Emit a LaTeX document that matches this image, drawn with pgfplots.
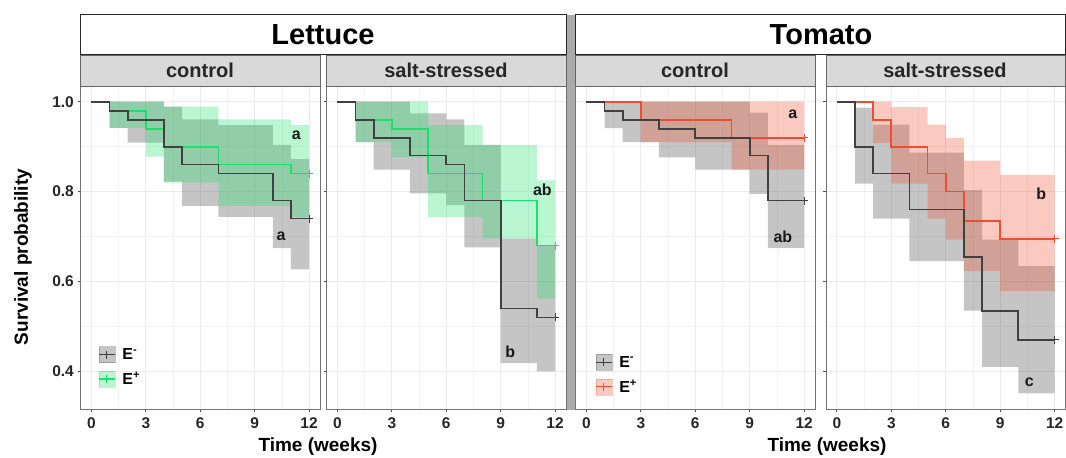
\documentclass[border=0pt]{standalone}
\usepackage{fontspec}
\setmainfont{Liberation Sans}
\usepackage{pgfplots}
\pgfplotsset{compat=1.18}

\definecolor{kline}{RGB}{64,64,64}
\definecolor{gline}{RGB}{25,225,105}
\definecolor{rline}{RGB}{238,78,48}
\definecolor{stripfill}{RGB}{217,217,217}
\definecolor{sepbar}{RGB}{170,170,170}

% bands: upper limits left to right, then lower limits right to left,
% each lower point (x, value of the interval left of x)
\pgfplotsset{
  panel/.style={
    scale only axis, width=239.5pt, height=323.5pt, anchor=south west,
    xmin=-0.6, xmax=12.6, ymin=0.315, ymax=1.035,
    xtick={0,3,6,9,12}, xticklabels={0,3,6,9,12},
    minor xtick={1.5,4.5,7.5,10.5},
    ytick={0.4,0.6,0.8,1.0}, minor ytick={0.5,0.7,0.9},
    yticklabels={},
    grid=both,
    major grid style={draw=black!8, line width=0.9pt},
    minor grid style={draw=black!5, line width=0.5pt},
    axis line style={draw=black!55, line width=1pt},
    tick align=outside, tick pos=left,
    major tick length=3pt, minor tick length=0pt,
    tick style={draw=black!70, line width=0.8pt},
    ticklabel style={font=\fontsize{15.5}{16}\selectfont\bfseries, text=black!85, inner sep=0pt},
    xticklabel style={yshift=-4.5pt},
    legend cell align=left,
  },
  keys/.style={legend style={at={#1}, anchor=north west, draw=none, fill=none,
    inner sep=0pt, row sep=7pt, font=\fontsize{16}{16}\selectfont\bfseries,
    /tikz/every odd column/.append style={column sep=5pt}}},
  band/.style={const plot, draw=none, fill=#1, fill opacity=0.3, forget plot},
  km/.style={const plot, color=#1, line width=1.7pt, forget plot},
  cens/.style={only marks, mark=+, mark size=4pt, color=#1, mark options={line width=1.2pt}, forget plot},
}
\newcommand{\letter}[3]{\node[font=\fontsize{16}{16}\selectfont\bfseries, text=black!90] at (axis cs:#1,#2) {#3};}

\begin{document}
\begin{tikzpicture}
\path[use as bounding box] (0pt,0pt) rectangle (1066pt,458pt);

% ---------- Lettuce / control
\begin{axis}[panel, at={(80.5pt,48.5pt)}, yticklabels={0.4,0.6,0.8,1.0},
  yticklabel style={xshift=-3.5pt}, keys={(0.073,0.196)}]
\addplot[band=kline] coordinates {(1,1.0)(2,1.0)(4,0.989)(5,0.961)(7,0.948)(10,0.904)(11,0.872)(12,0.872)
  (12,0.627)(11,0.674)(10,0.744)(7,0.768)(5,0.822)(4,0.909)(2,0.942)(1,0.942)};
\addplot[band=gline] coordinates {(1,1.0)(3,1.0)(4,0.989)(7,0.961)(11,0.948)(12,0.948)
  (12,0.744)(11,0.768)(7,0.820)(4,0.878)(3,0.942)(1,0.942)};
\addplot[km=gline] coordinates {(0,1)(1,0.98)(3,0.94)(4,0.90)(7,0.86)(11,0.84)(12,0.84)};
\addplot[km=kline] coordinates {(0,1)(1,0.98)(2,0.96)(4,0.90)(5,0.86)(7,0.84)(10,0.78)(11,0.74)(12,0.74)};
\addplot[cens=gline] coordinates {(12,0.84)};
\addplot[cens=kline] coordinates {(12,0.74)};
\addlegendimage{legend image code/.code={
      \fill[kline, opacity=0.3] (0pt,-8pt) rectangle (16pt,8pt);
      \draw[kline, line width=1.2pt] (0pt,0pt) -- (16pt,0pt) (8pt,-4pt) -- (8pt,4pt);}}
\addlegendentry{E\textsuperscript{-}}
\addlegendimage{legend image code/.code={
      \fill[gline, opacity=0.3] (0pt,-8pt) rectangle (16pt,8pt);
      \draw[gline, line width=1.2pt] (0pt,0pt) -- (16pt,0pt) (8pt,-4pt) -- (8pt,4pt);}}
\addlegendentry{E\textsuperscript{+}}
\letter{11.3}{0.926}{a}
\letter{10.45}{0.70}{a}
\end{axis}

% ---------- Lettuce / salt-stressed
\begin{axis}[panel, at={(326.5pt,48.5pt)}]
\addplot[band=kline] coordinates {(1,1.0)(2,1.0)(4,0.974)(6,0.961)(7,0.904)(9,0.696)(11,0.680)(12,0.680)
  (12,0.400)(11,0.418)(9,0.676)(7,0.770)(6,0.796)(4,0.849)(2,0.910)(1,0.910)};
\addplot[band=gline] coordinates {(1,1.0)(3,1.0)(5,0.948)(8,0.904)(11,0.825)(12,0.825)
  (12,0.562)(11,0.696)(8,0.744)(5,0.876)(3,0.910)(1,0.910)};
\addplot[km=gline] coordinates {(0,1)(1,0.96)(3,0.94)(5,0.84)(8,0.78)(11,0.68)(12,0.68)};
\addplot[km=kline] coordinates {(0,1)(1,0.96)(2,0.92)(4,0.88)(6,0.86)(7,0.78)(9,0.54)(11,0.52)(12,0.52)};
\addplot[cens=gline] coordinates {(12,0.68)};
\addplot[cens=kline] coordinates {(12,0.52)};
\letter{11.3}{0.803}{ab}
\letter{9.53}{0.443}{b}
\end{axis}

% ---------- Tomato / control
\begin{axis}[panel, at={(575.5pt,48.5pt)}, keys={(0.081,0.172)}]
\addplot[band=kline] coordinates {(1,1.0)(2,1.0)(4,1.0)(6,1.0)(9,0.976)(10,0.904)(12,0.904)
  (12,0.674)(10,0.795)(9,0.849)(6,0.876)(4,0.910)(2,0.941)(1,0.941)};
\addplot[band=rline] coordinates {(3,1.0)(8,1.0)(12,1.0)
  (12,0.849)(8,0.910)(3,0.910)};
\addplot[km=rline] coordinates {(0,1)(3,0.96)(8,0.92)(12,0.92)};
\addplot[km=kline] coordinates {(0,1)(1,0.98)(2,0.96)(4,0.94)(6,0.92)(9,0.88)(10,0.78)(12,0.78)};
\addplot[cens=rline] coordinates {(12,0.92)};
\addplot[cens=kline] coordinates {(12,0.78)};
\addlegendimage{legend image code/.code={
      \fill[kline, opacity=0.3] (0pt,-8pt) rectangle (16pt,8pt);
      \draw[kline, line width=1.2pt] (0pt,0pt) -- (16pt,0pt) (8pt,-4pt) -- (8pt,4pt);}}
\addlegendentry{E\textsuperscript{-}}
\addlegendimage{legend image code/.code={
      \fill[rline, opacity=0.3] (0pt,-8pt) rectangle (16pt,8pt);
      \draw[rline, line width=1.2pt] (0pt,0pt) -- (16pt,0pt) (8pt,-4pt) -- (8pt,4pt);}}
\addlegendentry{E\textsuperscript{+}}
\letter{11.38}{0.973}{a}
\letter{10.83}{0.70}{ab}
\end{axis}

% ---------- Tomato / salt-stressed
\begin{axis}[panel, at={(826pt,48.5pt)}]
\addplot[band=kline] coordinates {(1,0.987)(2,0.949)(4,0.887)(7,0.803)(8,0.693)(10,0.634)(12,0.634)
  (12,0.351)(10,0.410)(8,0.535)(7,0.645)(4,0.740)(2,0.818)(1,0.818)};
\addplot[band=rline] coordinates {(2,1.0)(3,0.988)(5,0.949)(6,0.919)(7,0.869)(9,0.837)(12,0.837)
  (12,0.579)(9,0.623)(7,0.693)(6,0.740)(5,0.818)(3,0.908)(2,0.908)};
\addplot[km=rline] coordinates {(0,1)(2,0.96)(3,0.90)(5,0.84)(6,0.80)(7,0.735)(9,0.695)(12,0.695)};
\addplot[km=kline] coordinates {(0,1)(1,0.90)(2,0.84)(4,0.76)(7,0.655)(8,0.535)(10,0.47)(12,0.47)};
\addplot[cens=rline] coordinates {(12,0.695)};
\addplot[cens=kline] coordinates {(12,0.47)};
\letter{11.27}{0.796}{b}
\letter{10.6}{0.375}{c}
\end{axis}

% ---------- facet strips and headers
\begin{scope}[line width=0.8pt]
\draw[draw=black!60, fill=stripfill] (80.5pt,372pt) rectangle (320pt,403pt);
\draw[draw=black!60, fill=stripfill] (326.5pt,372pt) rectangle (566pt,403pt);
\draw[draw=black!60, fill=stripfill] (575.5pt,372pt) rectangle (815pt,403pt);
\draw[draw=black!60, fill=stripfill] (826pt,372pt) rectangle (1065.5pt,403pt);
\draw[draw=black!85, fill=white, line width=1pt] (80.5pt,403.5pt) rectangle (566pt,443pt);
\draw[draw=black!85, fill=white, line width=1pt] (575.5pt,403.5pt) rectangle (1065pt,443pt);
\fill[sepbar] (566.5pt,48pt) rectangle (575pt,443pt);
\end{scope}
\node[font=\fontsize{20}{20}\selectfont\bfseries, text=black!85] at (200pt,387.5pt) {control};
\node[font=\fontsize{20}{20}\selectfont\bfseries, text=black!85] at (446pt,387.5pt) {salt-stressed};
\node[font=\fontsize{20}{20}\selectfont\bfseries, text=black!85] at (695pt,387.5pt) {control};
\node[font=\fontsize{20}{20}\selectfont\bfseries, text=black!85] at (945pt,387.5pt) {salt-stressed};
\node[font=\fontsize{29}{29}\selectfont\bfseries] at (323pt,423.5pt) {Lettuce};
\node[font=\fontsize{29}{29}\selectfont\bfseries] at (821pt,423.5pt) {Tomato};
\node[font=\fontsize{19}{19}\selectfont\bfseries, rotate=90] at (23pt,201pt) {Survival probability};
\node[font=\fontsize{19}{19}\selectfont\bfseries] at (318pt,11pt) {Time (weeks)};
\node[font=\fontsize{19}{19}\selectfont\bfseries] at (827pt,11pt) {Time (weeks)};
\end{tikzpicture}
\end{document}
